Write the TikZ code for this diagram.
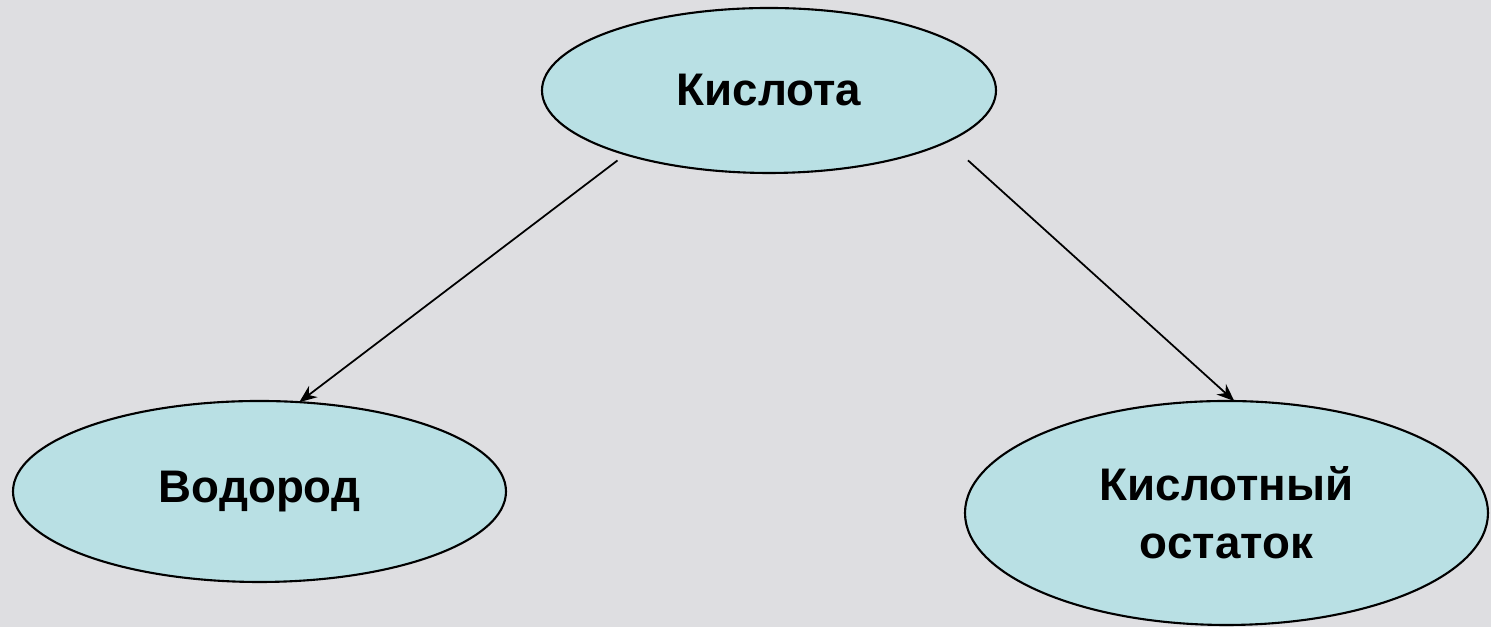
\documentclass[tikz,border=0pt]{standalone}
\usepackage{fontspec}
\setmainfont{Liberation Sans}
\usetikzlibrary{shapes.geometric,arrows.meta}
\definecolor{bgmarble}{RGB}{222,222,225}
\definecolor{ovalfill}{RGB}{185,224,228}

\begin{document}
\begin{tikzpicture}[
  oval/.style={ellipse, draw=black, line width=0.6pt, fill=ovalfill, inner sep=0pt, outer sep=0pt,
    align=center, font=\fontsize{13}{16.5}\selectfont\bfseries},
  link/.style={-{Stealth[length=5pt,width=4pt]}, line width=0.5pt}]
\fill[bgmarble] (0,0) rectangle (14.91,6.27);
\useasboundingbox (0,0) rectangle (14.91,6.27);
% ovals
\node[oval, minimum width=4.54cm, minimum height=1.65cm] (acid) at (7.69,5.365) {Кислота};
\node[oval, minimum width=4.93cm, minimum height=1.81cm] (hydrogen) at (2.595,1.355) {Водород};
\node[oval, minimum width=5.23cm, minimum height=2.24cm] (residue) at (12.265,1.14) {Кислотный\\остаток};
% arrows
\draw[link, shorten <=0.1cm] (acid.204) -- (hydrogen.66);
\draw[link, shorten <=0.28cm] (acid.344) -- (residue.86);
\end{tikzpicture}
\end{document}
